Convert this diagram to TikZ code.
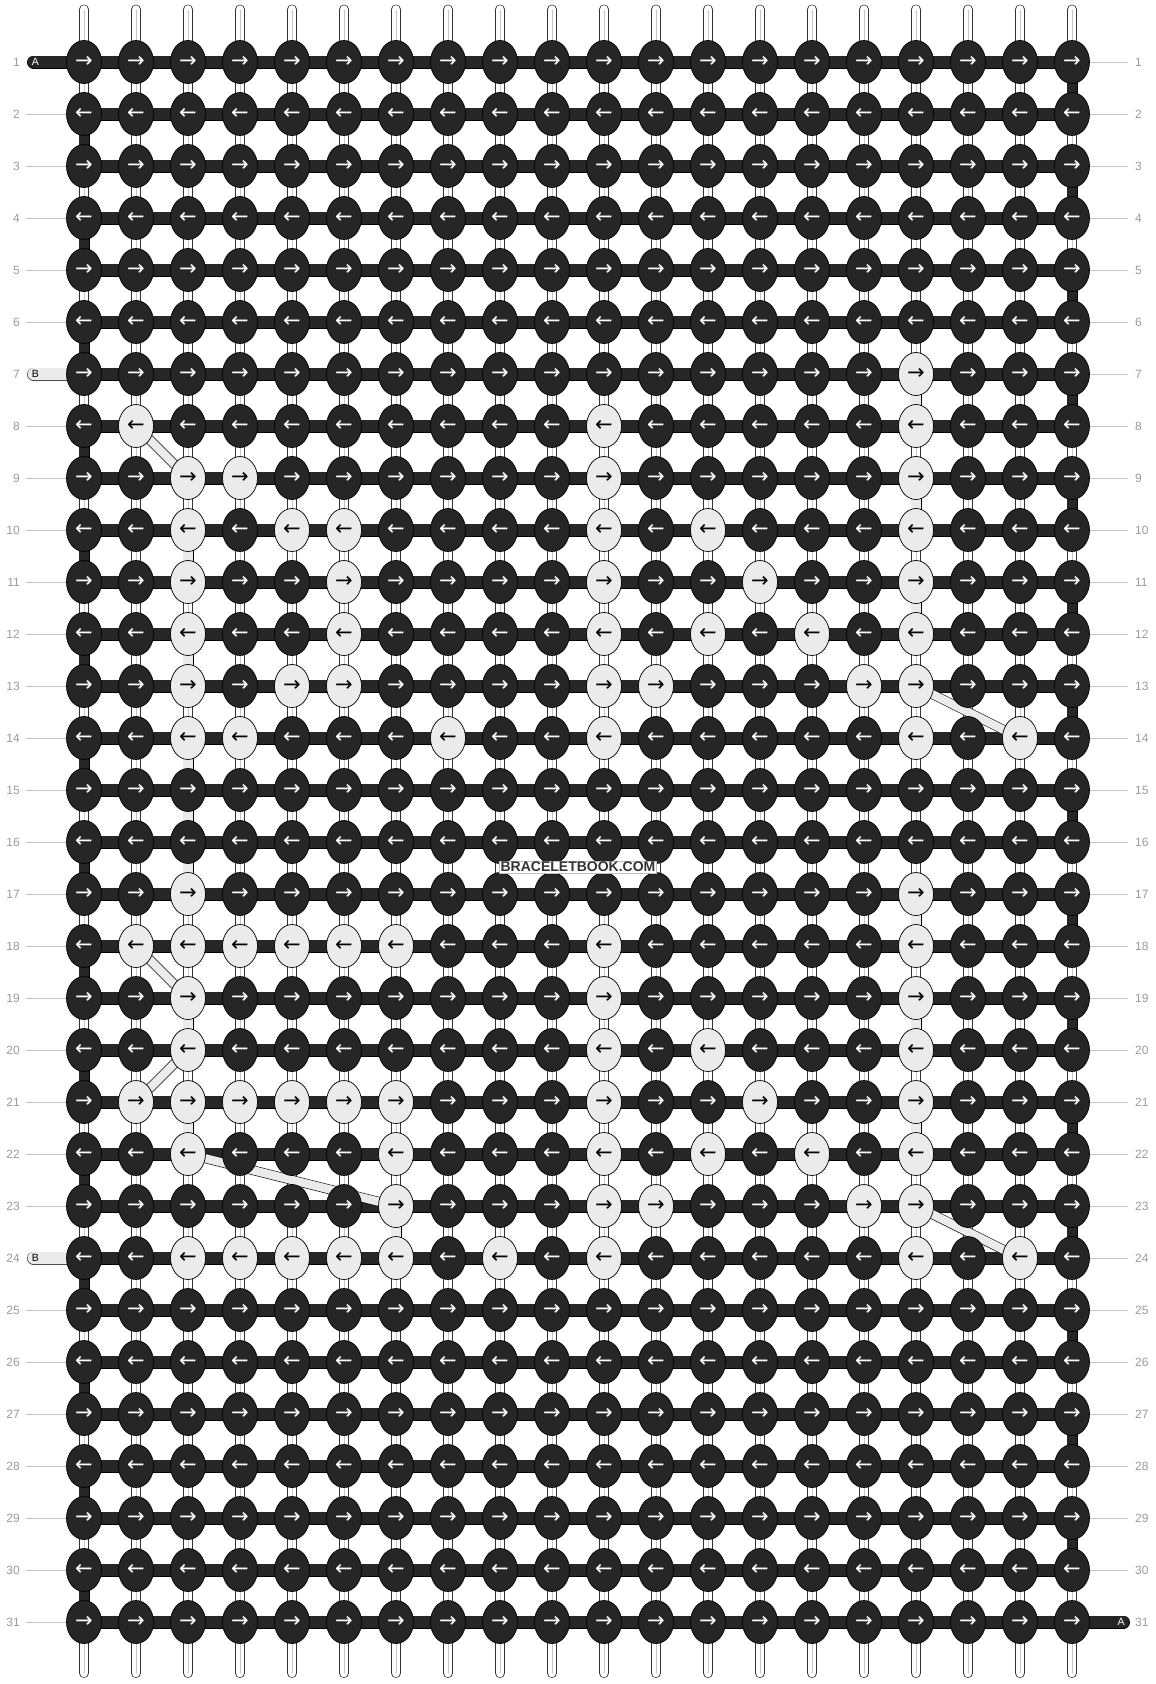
\documentclass[tikz,border=0pt]{standalone}
\usepackage{fontspec}
\setmainfont{Liberation Sans}
\newfontfamily\arrowfont{DejaVu Sans}
\usetikzlibrary{shapes.geometric,positioning}
\definecolor{knotdark}{HTML}{262626}
\definecolor{knotlight}{HTML}{EBEBEB}
\definecolor{numgray}{HTML}{9A9A9A}
\definecolor{linegray}{HTML}{C4C4C4}
\pgfdeclarelayer{back}
\pgfdeclarelayer{mid}
\pgfsetlayers{back,mid,main}
% row-column of every light knot
\def\lightknots{,7-17,8-2,8-11,8-17,9-3,9-4,9-11,9-17,10-3,10-5,10-6,10-11,10-13,10-17,11-3,11-6,11-11,11-14,11-17,12-3,12-6,12-11,12-13,12-15,12-17,13-3,13-5,13-6,13-11,13-12,13-16,13-17,14-3,14-4,14-8,14-11,14-17,14-19,17-3,17-17,18-2,18-3,18-4,18-5,18-6,18-7,18-11,18-17,19-3,19-11,19-17,20-3,20-11,20-13,20-17,21-2,21-3,21-4,21-5,21-6,21-7,21-11,21-14,21-17,22-3,22-7,22-11,22-13,22-15,22-17,23-7,23-11,23-12,23-16,23-17,24-3,24-4,24-5,24-6,24-7,24-9,24-11,24-17,24-19,}
\makeatletter
\newcommand\pickknot[2]{\edef\pk@test{\noexpand\in@{,#1-#2,}{\lightknots}}\pk@test
  \ifin@\tikzset{kn/.style={knotlight}}\else\tikzset{kn/.style={knotdark}}\fi}
\makeatother

\begin{document}
\begin{tikzpicture}[x=1pt,y=-1pt,
    knot/.style={ellipse,draw=black,line width=.7pt,minimum width=35pt,minimum height=43pt,inner sep=0pt,font=\arrowfont\fontsize{21}{21}\selectfont},
    knotdark/.style={knot,fill=knotdark,text=white},
    knotlight/.style={knot,fill=knotlight,text=black},
    vstring/.style={draw=black!80,line width=.7pt,double=white,double distance=8.6pt,line cap=round},
    vmid/.style={draw=linegray,line width=.8pt},
    hbar/.style={draw=black,line width=.7pt,double=knotdark,double distance=11.6pt},
    edgebar/.style={draw=black,line width=.7pt,double=knotdark,double distance=9.6pt},
    bsolid/.style={draw=black,line width=.7pt,double=knotlight,double distance=9.6pt},
    bband/.style={draw=black,line width=.6pt,double=knotlight,double distance=8.4pt},
    pillA/.style={draw=black,line width=.7pt,double=knotdark,double distance=11.6pt,line cap=round},
    pillB/.style={draw=black!70,line width=.7pt,double=knotlight,double distance=11.6pt,line cap=round},
    rownum/.style={font=\fontsize{12}{12}\selectfont,text=numgray,inner sep=0pt},
    rule/.style={draw=linegray,line width=.9pt},
    tag/.style={font=\fontsize{10.5}{10.5}\selectfont,inner sep=0pt}]
    \useasboundingbox (0,0) rectangle (1156,1684);
    % knots
    \foreach \r in {1,...,31} {
        \foreach \c in {1,...,20} {
            \pickknot{\r}{\c}
            \node [kn] (k-\r-\c) at ({84+52*(\c-1)},{62+52*(\r-1)}) {\ifodd\r →\else ←\fi};
        }
        \node [rownum,anchor=east] (ln-\r) at (20,{62+52*(\r-1)}) {\r};
        \node [rownum,anchor=west] (rn-\r) at (1135,{62+52*(\r-1)}) {\r};
    }
    \node [tag,text=white] (tagA) at (35.5,62) {A};
    \node [tag] (tagB7) at (35.5,374) {B};
    \node [tag] (tagB24) at (35.5,1258) {B};
    \node [tag,text=white] (tagA31) at (1121,1622) {A};
    \node [fill=white,draw=black!25,line width=.5pt,inner sep=1pt,text=black!80,font=\bfseries\fontsize{14}{14}\selectfont] (mark) at (578,867) {BRACELETBOOK.COM};
    \begin{pgfonlayer}{back}
        \foreach \c in {1,...,20} {
            \coordinate (top-\c) at ({84+52*(\c-1)},9.5);
            \coordinate (bot-\c) at ({84+52*(\c-1)},1673);
            \draw [vstring] (top-\c) -- (bot-\c); % vertical strings
            \draw [vmid] (top-\c) -- (bot-\c);
        }
    \end{pgfonlayer}
    \begin{pgfonlayer}{mid}
        \foreach \r in {1,...,31}
            \draw [hbar] (k-\r-1.center) -- (k-\r-20.center); % knotting string
        \foreach \r [evaluate=\r as \n using int(\r+1)] in {2,4,...,30}
            \draw [edgebar] (k-\r-1.center) -- (k-\n-1.center); % turns on the left
        \foreach \r [evaluate=\r as \n using int(\r+1)] in {1,3,...,29}
            \draw [edgebar] (k-\r-20.center) -- (k-\n-20.center); % turns on the right
        \foreach \c/\r [evaluate=\r as \n using int(\r+1)] in {3/10,3/12,3/14,3/15,3/16,3/19,3/21,7/23,17/7,17/9,17/11,17/17,17/19,17/21}
            \draw [bsolid] (k-\r-\c.center) -- (k-\n-\c.center);
        \foreach \a/\b in {8-2/9-3,13-17/14-19,18-2/19-3,20-3/21-2,22-3/23-7,23-17/24-19}
            \draw [bband] (k-\a.center) -- (k-\b.center); % string B moving across
        \foreach \r in {2,3,4,5,6,8,9,...,23,25,26,27,28,29,30,31}
            \draw [rule,shorten <=6pt] (ln-\r.east) -- (k-\r-1.west);
        \foreach \r in {1,...,30}
            \draw [rule,shorten >=7pt] (k-\r-20.east) -- (rn-\r.west);
        \coordinate (endA) at (33.5,62);
        \coordinate (endB7) at (33.5,374);
        \coordinate (endB24) at (33.5,1258);
        \coordinate (endA31) at (1123.5,1622);
        \draw [pillA] (endA) -- (k-1-1.center);
        \draw [pillB] (endB7) -- (k-7-1.center);
        \draw [pillB] (endB24) -- (k-24-1.center);
        \draw [pillA] (k-31-20.center) -- (endA31);
    \end{pgfonlayer}
\end{tikzpicture}
\end{document}
